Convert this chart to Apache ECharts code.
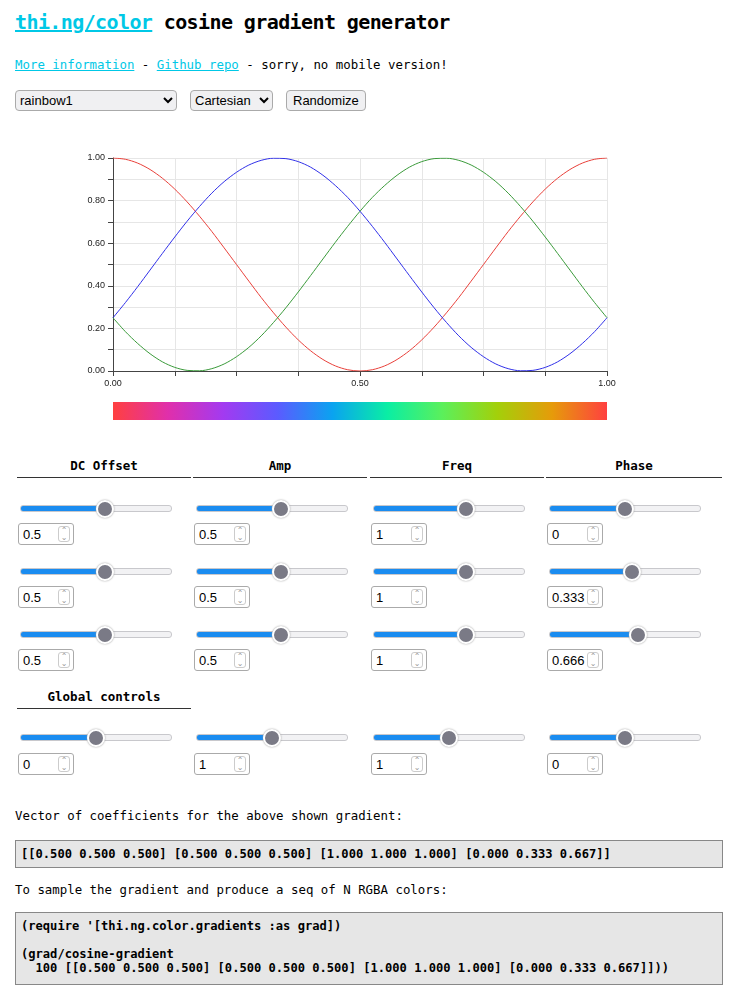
<!DOCTYPE html>
<html><head><meta charset="utf-8">
<script src="https://cdn.jsdelivr.net/npm/echarts@6/dist/echarts.min.js"></script>
<style>
body{margin:0;width:738px;height:1000px;position:relative;background:#fff;font-family:"DejaVu Sans Mono",monospace;color:#000;overflow:hidden}
.abs{position:absolute}
h1{position:absolute;left:15px;top:10px;margin:0;font-size:20px;letter-spacing:-0.6px;font-weight:bold}
a{color:#00c8e6}
.mono{font-size:12.4px}
select,button{font-family:"Liberation Sans",sans-serif;font-size:13px;height:21px;border:1px solid #aaa;border-radius:4px;background:#f0f0f2}
.hd{position:absolute;width:170px;text-align:center;font-weight:bold;font-size:12.5px;border-bottom:1px solid #333;padding-bottom:4px}
input[type=range]{position:absolute;width:150px;margin:0;-webkit-appearance:none;appearance:none;height:5px;border-radius:3px;border:1px solid #c8c8cc}
input[type=range]::-webkit-slider-thumb{-webkit-appearance:none;width:18px;height:18px;border-radius:50%;background:#7a7a86;border:2px solid #fff;box-shadow:0 0 2px #999}
.num{position:absolute;width:56px;height:22px;box-sizing:border-box;border:1px solid #aaa;border-radius:3px;font-family:"Liberation Sans",sans-serif;font-size:13px;padding:3px 4px}
.spin{position:absolute;width:10px;height:14px;border:1px solid #ccc;border-radius:3px;color:#999;font-size:8px;line-height:7px;text-align:center;font-family:"DejaVu Sans"}
pre{position:absolute;left:15px;width:708px;box-sizing:border-box;margin:0;background:#e6e6e6;border:1px solid #888;font-weight:bold;font-size:12.1px;padding:6px 5px}
#chart{position:absolute;left:0;top:140px;width:738px;height:260px}
#grad{position:absolute;left:113px;top:402px;width:494px;height:18px;background:linear-gradient(to right,#ff4040,#e02fab,#a33af0,#5b5bff,#0aa3f0,#0aeea4,#5bf05b,#a3d00a,#e69b0a,#ff4040)}
</style></head><body>
<h1><a href="#">thi.ng/color</a> cosine gradient generator</h1>
<div class="abs mono" style="left:15px;top:57px"><a href="#">More information</a> - <a href="#">Github repo</a> - sorry, no mobile version!</div>
<select class="abs" style="left:15px;top:90px;width:162px"><option>rainbow1</option></select>
<select class="abs" style="left:190px;top:90px;width:83px"><option>Cartesian</option></select>
<button class="abs" style="left:286px;top:90px">Randomize</button>
<div id="chart"></div>
<div id="grad"></div>
<div id="controls"></div>
<div class="abs mono" style="left:15px;top:808px">Vector of coefficients for the above shown gradient:</div>
<pre style="top:840px">[[0.500 0.500 0.500] [0.500 0.500 0.500] [1.000 1.000 1.000] [0.000 0.333 0.667]]</pre>
<div class="abs mono" style="left:15px;top:882px">To sample the gradient and produce a seq of N RGBA colors:</div>
<pre style="top:912px;height:73px">(require '[thi.ng.color.gradients :as grad])

(grad/cosine-gradient
  100 [[0.500 0.500 0.500] [0.500 0.500 0.500] [1.000 1.000 1.000] [0.000 0.333 0.667]]))</pre>
<script>
var xs = [0,0.025,0.05,0.075,0.1,0.125,0.15,0.175,0.2,0.225,0.25,0.275,0.3,0.325,0.35,0.375,0.4,0.425,0.45,0.475,0.5,
	0.525,0.55,0.575,0.6,0.625,0.65,0.675,0.7,0.725,0.75,0.775,0.8,0.825,0.85,0.875,0.9,0.925,0.95,0.975,1];
var redVals = [1,0.994,0.976,0.946,0.905,0.854,0.794,0.727,0.655,0.578,0.5,0.422,0.345,0.273,0.206,0.146,0.095,0.054,0.024,0.006,0,
	0.006,0.024,0.054,0.095,0.146,0.206,0.273,0.345,0.422,0.5,0.578,0.655,0.727,0.794,0.854,0.905,0.946,0.976,0.994,1];
var greenVals = [0.25,0.185,0.129,0.081,0.043,0.017,0.003,0.001,0.011,0.033,0.067,0.111,0.165,0.228,0.297,0.371,0.448,0.526,0.604,0.679,0.75,
	0.815,0.871,0.919,0.957,0.983,0.997,0.999,0.989,0.967,0.933,0.889,0.835,0.772,0.703,0.629,0.552,0.474,0.396,0.321,0.25];
var blueVals = [0.25,0.321,0.396,0.474,0.552,0.629,0.703,0.772,0.835,0.889,0.933,0.967,0.989,0.999,0.997,0.983,0.957,0.919,0.871,0.815,0.75,
	0.679,0.604,0.526,0.448,0.371,0.297,0.228,0.165,0.111,0.067,0.033,0.011,0.001,0.003,0.017,0.043,0.081,0.129,0.185,0.25];
var headers = ['DC Offset','Amp','Freq','Phase'];
var ctlValues = [['0.5','0.5','1','0'],['0.5','0.5','1','0.333'],['0.5','0.5','1','0.666']];
var sliderPos = [[57,57,63,50],[57,57,63,55],[57,57,63,60]];
var globalValues = ['0','1','1','0'];
var globalPos = [50,50,50,50];

function pairs(vals){ return xs.map(function(x,i){ return [x, vals[i]]; }); }

var chart = echarts.init(document.getElementById('chart'));
chart.setOption({
	animation: false,
	grid: {left: 113, right: 131, top: 18, bottom: 29},
	xAxis: {
		type: 'value', min: 0, max: 1, interval: 0.125,
		axisLine: {lineStyle: {color: '#444'}},
		axisTick: {show: true, lineStyle: {color: '#444'}},
		axisLabel: {color: '#222', fontSize: 9, fontFamily: 'Liberation Sans',
			formatter: function(v){ return (v === 0 || v === 0.5 || v === 1) ? v.toFixed(2) : ''; }},
		splitLine: {show: true, lineStyle: {color: '#e6e6e6'}}
	},
	yAxis: {
		type: 'value', min: 0, max: 1, interval: 0.1,
		axisLine: {show: true, lineStyle: {color: '#444'}},
		axisTick: {show: true, lineStyle: {color: '#444'}},
		axisLabel: {color: '#222', fontSize: 9, fontFamily: 'Liberation Sans',
			formatter: function(v){ var k = Math.round(v*10); return k % 2 === 0 ? v.toFixed(2) : ''; }},
		splitLine: {show: true, lineStyle: {color: '#e6e6e6'}}
	},
	series: [
		{type: 'line', data: pairs(redVals), smooth: 0.3, showSymbol: false, lineStyle: {color: '#e8403a', width: 1}},
		{type: 'line', data: pairs(greenVals), smooth: 0.3, showSymbol: false, lineStyle: {color: '#3a9a3a', width: 1}},
		{type: 'line', data: pairs(blueVals), smooth: 0.3, showSymbol: false, lineStyle: {color: '#3030e8', width: 1}}
	]
});

var html = '';
var colX = [17, 193, 370, 546];
function slider(x, y, p){
	return '<input type="range" min="0" max="100" value="' + p + '" style="left:' + x + 'px;top:' + y + 'px;background:linear-gradient(to right,#1a8cf0 ' + p + '%,#f2f2f4 ' + p + '%)">';
}
function numBox(x, y, v){
	return '<input class="num" value="' + v + '" style="left:' + x + 'px;top:' + y + 'px">' +
		'<div class="spin" style="left:' + (x + 40) + 'px;top:' + (y + 3) + 'px">&#8963;<br>&#8964;</div>';
}
headers.forEach(function(h, c){
	html += '<div class="hd" style="left:' + colX[c] + 'px;top:458px;width:' + (c === 3 ? 176 : 174) + 'px">' + h + '</div>';
});
var rowY = [505, 568, 631];
ctlValues.forEach(function(row, r){
	row.forEach(function(v, c){
		html += slider(colX[c] + 3, rowY[r], sliderPos[r][c]);
		html += numBox(colX[c] + 1, rowY[r] + 18, v);
	});
});
html += '<div class="hd" style="left:17px;top:689px;width:174px">Global controls</div>';
globalValues.forEach(function(v, c){
	html += slider(colX[c] + 3, 734, globalPos[c]);
	html += numBox(colX[c] + 1, 753, v);
});
document.getElementById('controls').innerHTML = html;
</script>
</body></html>
